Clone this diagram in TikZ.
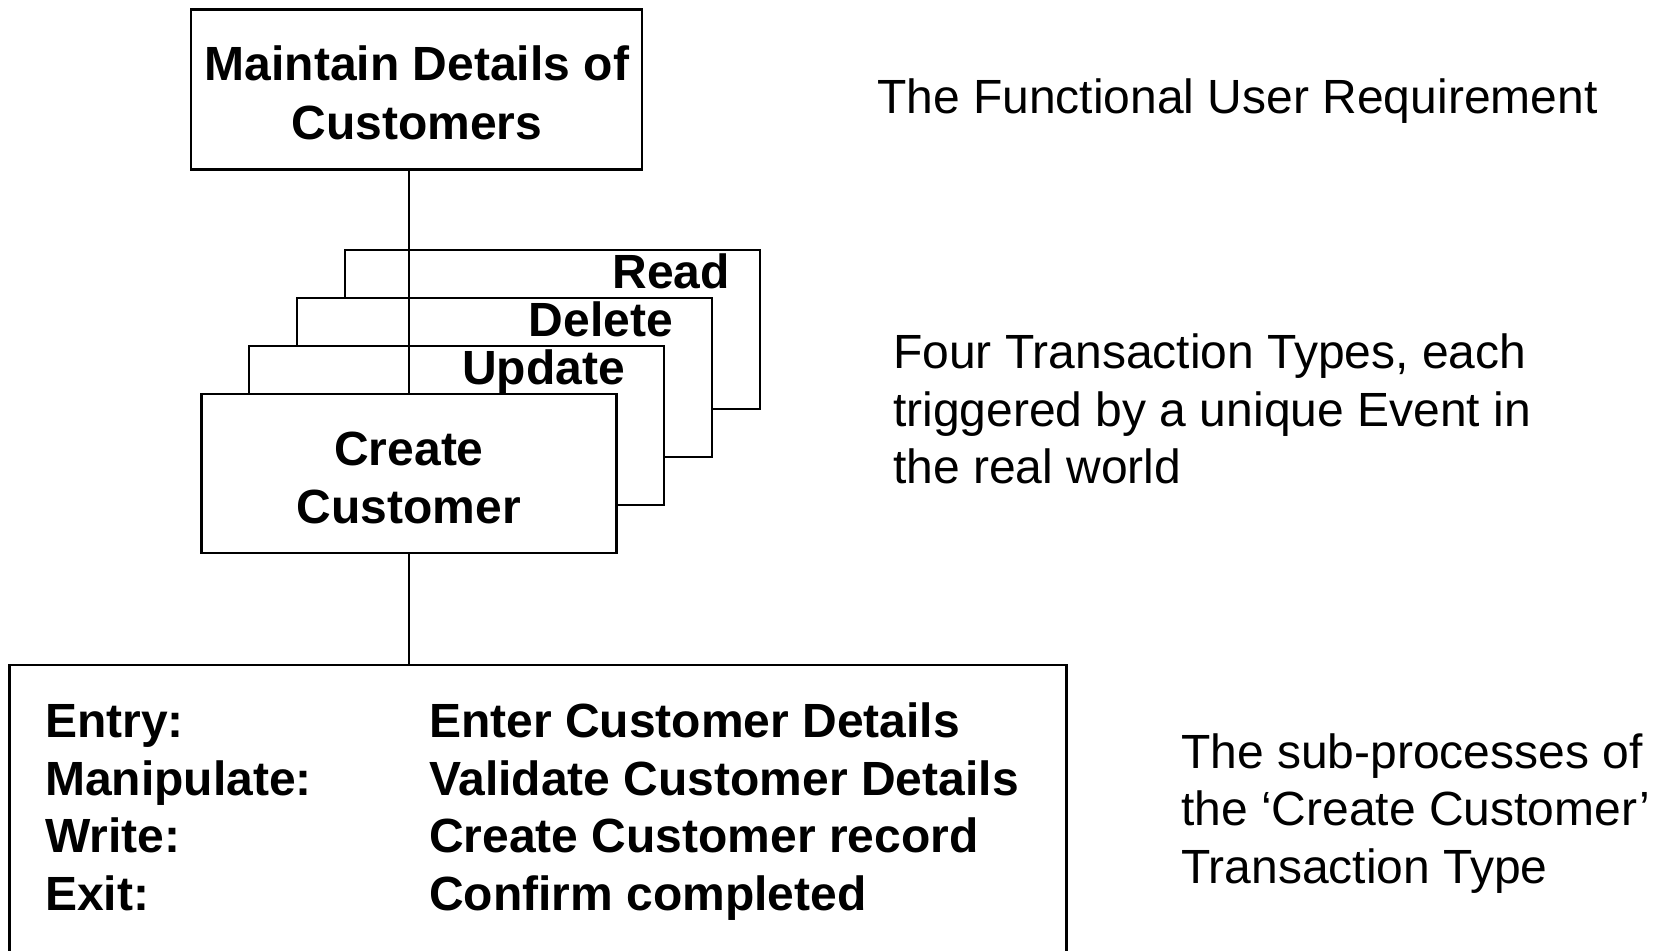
\documentclass[tikz,border=0pt]{standalone}
\usepackage{fontspec}
\setmainfont{Liberation Sans}
\begin{document}
\begin{tikzpicture}[x=1pt,y=-1pt,
  frame/.style={draw, line width=2.6pt, fill=white, rectangle, inner sep=0pt},
  boldtxt/.style={font=\fontsize{48}{58}\selectfont\bfseries, inner sep=0pt},
  plaintxt/.style={font=\fontsize{48}{58}\selectfont, inner sep=0pt, anchor=base west},
  link/.style={line width=2.6pt}]
\useasboundingbox (0,0) rectangle (1656,950);

% functional user requirement
\node[frame, minimum width=451pt, minimum height=160pt] (fur) at (416.5,89.5) {};
\node[boldtxt, anchor=base] (furA) at (417,81) {Maintain Details of};
\node[boldtxt, anchor=base] (furB) at (417,139.5) {Customers};

% stacked transaction types, back to front
\node[frame, minimum width=415pt, minimum height=159pt] (read)   at (552.5,329.5) {};
\node[frame, minimum width=415pt, minimum height=159pt] (delete) at (504.5,377.5) {};
\node[frame, minimum width=415pt, minimum height=159pt] (update) at (456.5,425.5) {};
\node[frame, minimum width=415pt, minimum height=159pt] (create) at (409,473.5) {};

% connector from the requirement down through the stack
\draw[link] (create.north) -- (create.north |- fur.south);

% stack labels
\node[boldtxt, anchor=base east] (readT)   at (730,288) {Read};
\node[boldtxt, anchor=base east] (deleteT) at (673,336) {Delete};
\node[boldtxt, anchor=base east] (updateT) at (625,384) {Update};
\node[boldtxt, anchor=base] (createA) at (409,465) {Create};
\node[boldtxt, anchor=base] (createB) at (409,523) {Customer};

% sub-processes box (runs off the bottom edge)
\node[inner sep=0pt, minimum width=1056.5pt, minimum height=287pt] (steps) at (537.75,808.5) {};
\draw[link] (steps.south west) -- (steps.north west) -- (steps.north east) -- (steps.south east);
\draw[link] (create.south) -- (create.south |- steps.north);

\node[boldtxt, anchor=base west] (k1) at (45,737) {Entry:};
\node[boldtxt, anchor=base west] (k2) at (45,795) {Manipulate:};
\node[boldtxt, anchor=base west] (k3) at (45,852) {Write:};
\node[boldtxt, anchor=base west] (k4) at (45,910) {Exit:};
\node[boldtxt, anchor=base west] (v1) at (429,737) {Enter Customer Details};
\node[boldtxt, anchor=base west] (v2) at (429,795) {Validate Customer Details};
\node[boldtxt, anchor=base west] (v3) at (429,852) {Create Customer record};
\node[boldtxt, anchor=base west] (v4) at (429,910) {Confirm completed};

% explanatory notes
\node[plaintxt] (noteA)  at (877,113) {The Functional User Requirement};
\node[plaintxt] (noteB1) at (893,368) {Four Transaction Types, each};
\node[plaintxt] (noteB2) at (893,426) {triggered by a unique Event in};
\node[plaintxt] (noteB3) at (893,483) {the real world};
\node[plaintxt] (noteC1) at (1181,768) {The sub-processes of};
\node[plaintxt] (noteC2) at (1181,825) {the ‘Create Customer’};
\node[plaintxt] (noteC3) at (1181,883) {Transaction Type};
\end{tikzpicture}
\end{document}
